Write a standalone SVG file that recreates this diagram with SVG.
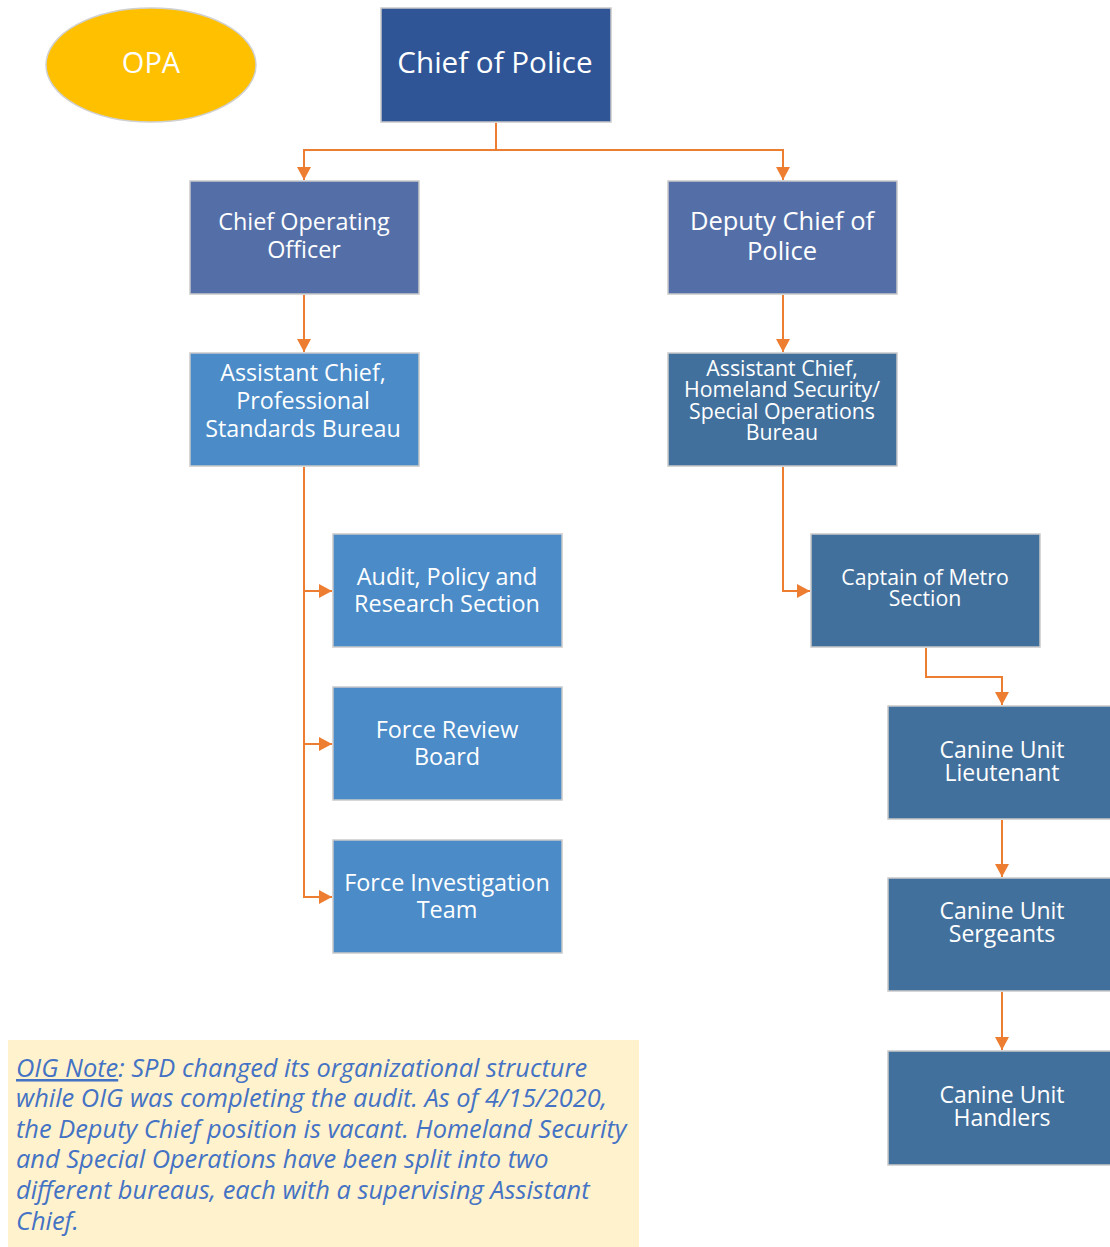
<svg xmlns="http://www.w3.org/2000/svg" width="1110" height="1247" viewBox="0 0 1110 1247">
<defs>
<marker id="ah" viewBox="0 0 13 14" refX="13" refY="7" markerWidth="13" markerHeight="14" markerUnits="userSpaceOnUse" orient="auto">
<path d="M0,0 L13,7 L0,14 Z" fill="#ED7D31"/>
</marker>
<style>
.box{stroke:#C9C9C9;stroke-width:1.5}
.t{font-family:"Open Sans","Noto Sans","Liberation Sans",sans-serif;fill:#FFFFFF;text-anchor:middle}
.c{fill:none;stroke:#ED7D31;stroke-width:2}
.note{font-family:"Open Sans","Noto Sans","Liberation Sans",sans-serif;font-style:italic;fill:#4472C4;font-size:25.4px}
</style>
</defs>
<rect width="1110" height="1247" fill="#FFFFFF"/>
<g id="connectors">
<path class="c" d="M496,123 V150 H304 V180" marker-end="url(#ah)"/>
<path class="c" d="M496,150 H783 V180" marker-end="url(#ah)"/>
<path class="c" d="M304,295 V352" marker-end="url(#ah)"/>
<path class="c" d="M783,295 V352" marker-end="url(#ah)"/>
<path class="c" d="M304,467 V897 H332" marker-end="url(#ah)"/>
<path class="c" d="M304,591 H332" marker-end="url(#ah)"/>
<path class="c" d="M304,744 H332" marker-end="url(#ah)"/>
<path class="c" d="M783,467 V591 H810" marker-end="url(#ah)"/>
<path class="c" d="M926,648 V677 H1002 V705" marker-end="url(#ah)"/>
<path class="c" d="M1002,820 V877" marker-end="url(#ah)"/>
<path class="c" d="M1002,992 V1050" marker-end="url(#ah)"/>
</g>
<g id="opa">
<ellipse cx="151" cy="65" rx="105" ry="57" fill="#FFC000" stroke="#D0D0D0" stroke-width="1.5"/>
<text class="t" x="151" y="73" font-size="29">OPA</text>
</g>
<g id="chief">
<rect class="box" x="381" y="8" width="230" height="114" fill="#2F5597"/>
<text class="t" x="495" y="73" font-size="29.6">Chief of Police</text>
</g>
<g id="coo">
<rect class="box" x="190" y="181" width="229" height="113" fill="#546FA8"/>
<text class="t" x="304" y="230" font-size="23.4">Chief Operating</text>
<text class="t" x="304" y="258" font-size="23.4">Officer</text>
</g>
<g id="deputy">
<rect class="box" x="668" y="181" width="229" height="113" fill="#546FA8"/>
<text class="t" x="782" y="230" font-size="25.5">Deputy Chief of</text>
<text class="t" x="782" y="260" font-size="25.5">Police</text>
</g>
<g id="ac-psb">
<rect class="box" x="190" y="353" width="229" height="113" fill="#4A8BC8"/>
<text class="t" x="303" y="381" font-size="23.3">Assistant Chief,</text>
<text class="t" x="303" y="409" font-size="23.3">Professional</text>
<text class="t" x="303" y="437" font-size="23.3">Standards Bureau</text>
</g>
<g id="ac-hs">
<rect class="box" x="668" y="353" width="229" height="113" fill="#42709C"/>
<text class="t" x="782" y="376" font-size="21.3">Assistant Chief,</text>
<text class="t" x="782" y="397" font-size="21.3">Homeland Security/</text>
<text class="t" x="782" y="419" font-size="21.3">Special Operations</text>
<text class="t" x="782" y="440" font-size="21.3">Bureau</text>
</g>
<g id="audit">
<rect class="box" x="333" y="534" width="229" height="113" fill="#4A8BC8"/>
<text class="t" x="447" y="585" font-size="23.4">Audit, Policy and</text>
<text class="t" x="447" y="612" font-size="23.4">Research Section</text>
</g>
<g id="frb">
<rect class="box" x="333" y="687" width="229" height="113" fill="#4A8BC8"/>
<text class="t" x="447" y="738" font-size="23.4">Force Review</text>
<text class="t" x="447" y="765" font-size="23.4">Board</text>
</g>
<g id="fit">
<rect class="box" x="333" y="840" width="229" height="113" fill="#4A8BC8"/>
<text class="t" x="447" y="891" font-size="23.4">Force Investigation</text>
<text class="t" x="447" y="918" font-size="23.4">Team</text>
</g>
<g id="captain">
<rect class="box" x="811" y="534" width="229" height="113" fill="#42709C"/>
<text class="t" x="925" y="585" font-size="21.3">Captain of Metro</text>
<text class="t" x="925" y="606" font-size="21.3">Section</text>
</g>
<g id="canine-lt">
<rect class="box" x="888" y="706" width="226" height="113" fill="#42709C"/>
<text class="t" x="1002" y="758" font-size="23">Canine Unit</text>
<text class="t" x="1002" y="781" font-size="23">Lieutenant</text>
</g>
<g id="canine-sgt">
<rect class="box" x="888" y="878" width="226" height="113" fill="#42709C"/>
<text class="t" x="1002" y="919" font-size="23">Canine Unit</text>
<text class="t" x="1002" y="942" font-size="23">Sergeants</text>
</g>
<g id="canine-handlers">
<rect class="box" x="888" y="1051" width="226" height="114" fill="#42709C"/>
<text class="t" x="1002" y="1103" font-size="23">Canine Unit</text>
<text class="t" x="1002" y="1126" font-size="23">Handlers</text>
</g>
<g id="oig-note">
<rect x="8" y="1040" width="631" height="207" fill="#FFF2CC"/>
<text class="note" x="16" y="1077"><tspan text-decoration="underline">OIG Note</tspan>: SPD changed its organizational structure</text>
<text class="note" x="16" y="1107">while OIG was completing the audit. As of 4/15/2020,</text>
<text class="note" x="16" y="1138">the Deputy Chief position is vacant. Homeland Security</text>
<text class="note" x="16" y="1168">and Special Operations have been split into two</text>
<text class="note" x="16" y="1199">different bureaus, each with a supervising Assistant</text>
<text class="note" x="16" y="1230">Chief.</text>
</g>
</svg>
